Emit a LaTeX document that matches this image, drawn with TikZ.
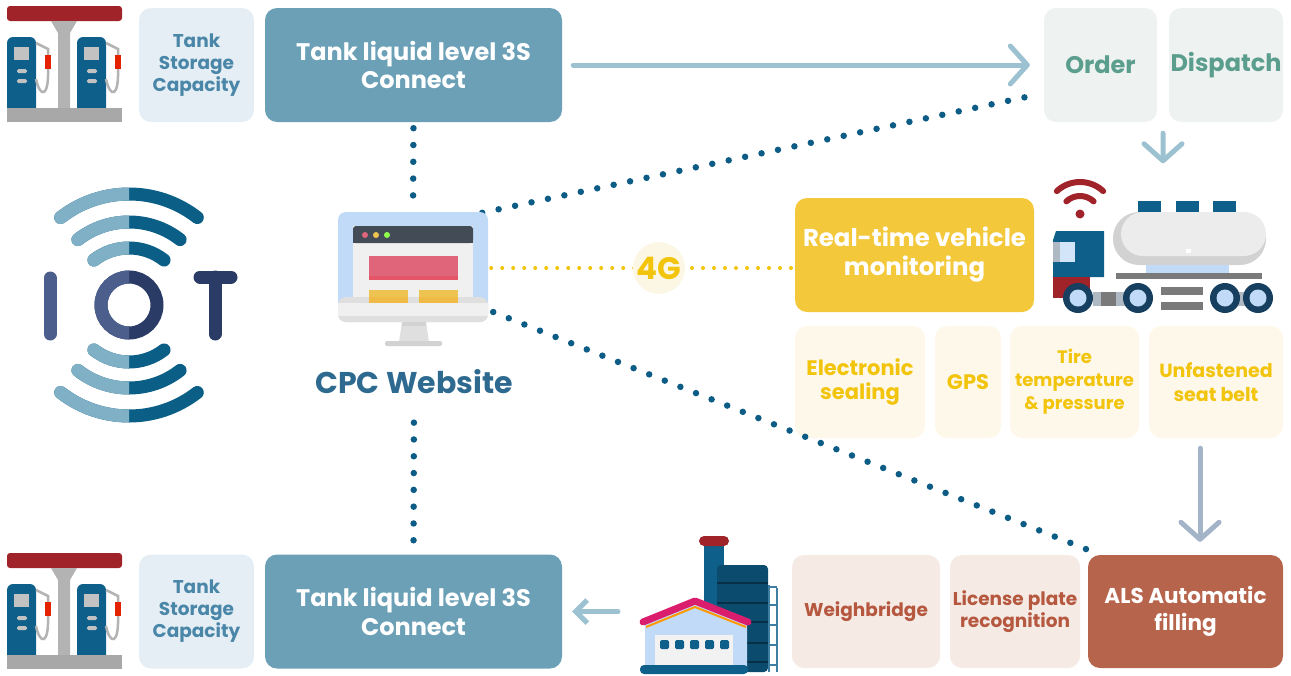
\documentclass[tikz,border=0pt]{standalone}
\usepackage{fontspec}
\setmainfont{Poppins}
\usetikzlibrary{arrows.meta,calc}
\definecolor{capfill}{HTML}{E5EEF4}
\definecolor{captext}{HTML}{4A86A8}
\definecolor{connfill}{HTML}{6BA0B7}
\definecolor{ordfill}{HTML}{EEF2F0}
\definecolor{ordtext}{HTML}{5B9E8E}
\definecolor{arrowblue}{HTML}{9CC1D1}
\definecolor{arrowgrey}{HTML}{A3B4C8}
\definecolor{rtfill}{HTML}{F3C83A}
\definecolor{senfill}{HTML}{FDF8EA}
\definecolor{gold}{HTML}{F2C40C}
\definecolor{netfill}{HTML}{FCF7E4}
\definecolor{brfill}{HTML}{F5EAE4}
\definecolor{brtext}{HTML}{B5583F}
\definecolor{alsfill}{HTML}{B7644C}
\definecolor{dotblue}{HTML}{0C5C86}
\definecolor{cpctext}{HTML}{2E6A8F}
\definecolor{arcl}{HTML}{80B0C5}
\definecolor{arcd}{HTML}{0B5E86}
\definecolor{iotl}{HTML}{4C5E8B}
\definecolor{iotd}{HTML}{2A3B66}
\definecolor{pumpblue}{HTML}{0E5F8A}
\definecolor{roofred}{HTML}{A0232A}
\definecolor{polegray}{HTML}{B3B3B3}
\definecolor{basegray}{HTML}{A8A8A8}
\definecolor{darkgray}{HTML}{7A7A7A}
\definecolor{softgray}{HTML}{AEB9C3}
\definecolor{paleblue}{HTML}{C0DAF7}
\definecolor{wheeldark}{HTML}{173F5F}
\definecolor{screenbar}{HTML}{434B57}
\definecolor{screenred}{HTML}{E0647A}
\definecolor{screenyel}{HTML}{EDC452}
\tikzset{
  >={Straight Barb[round,length=17pt,width=38pt]},
}
\tikzstyle{box}=[rounded corners=12pt,align=center,inner sep=0pt]
\tikzstyle{capbox}=[box,fill=capfill,text=captext,minimum width=115pt,minimum height=114pt,
  font=\bfseries\fontsize{18.5}{22}\selectfont]
\tikzstyle{connbox}=[box,fill=connfill,text=white,minimum width=297pt,minimum height=114pt,
  font=\bfseries\fontsize{24}{28.5}\selectfont]
\tikzstyle{ordbox}=[box,fill=ordfill,text=ordtext,minimum height=114pt,
  font=\bfseries\fontsize{24}{28}\selectfont]
\tikzstyle{rtbox}=[box,fill=rtfill,text=white,minimum width=239pt,minimum height=114pt,
  font=\bfseries\fontsize{24.4}{29}\selectfont]
\tikzstyle{senbox}=[box,fill=senfill,text=gold,minimum height=112pt,
  font=\bfseries\fontsize{21}{24}\selectfont]
\tikzstyle{brbox}=[box,fill=brfill,text=brtext,minimum height=113pt,
  font=\bfseries\fontsize{18.5}{22}\selectfont]
\tikzstyle{flow}=[->,draw=arrowblue,line width=5pt,line cap=round]
\tikzstyle{dots}=[draw=dotblue,line width=6.5pt,line cap=round,dash pattern=on 0pt off 16.8pt]
\tikzstyle{ydots}=[draw=gold,line width=4pt,line cap=round,dash pattern=on 0pt off 11pt]
\tikzstyle{iotarc}=[line width=13pt,line cap=round]

\newcommand{\pumpstation}[1]{%
  \begin{scope}[shift={#1}]
    \fill[roofred,rounded corners=3pt] (0,1) rectangle (115,16);
    \fill[polegray] (44,16) -- (70,16) -- (63,28) -- (63,104) -- (51,104) -- (51,28) -- cycle;
    \foreach \d in {0,70}{
      \fill[pumpblue,rounded corners=6pt] (\d,32) rectangle (\d+29,110);
      \fill[polegray!80] (\d+7,42) rectangle (\d+22,55);
      \fill[polegray!80,rounded corners=1.5pt] (\d+10,64) rectangle (\d+20,68);
      \fill[polegray!80,rounded corners=1.5pt] (\d+10,74) rectangle (\d+20,78);
      \draw[polegray,line width=2.5pt] (\d+29,38) -- (\d+41,44) -- (\d+41,50);
      \draw[polegray,line width=2.5pt] (\d+29,74) .. controls (\d+33,93) and (\d+42,93) .. (\d+41,64);
      \fill[red!70!orange!90!black] (\d+38,50) rectangle (\d+44,64);
    }
    \fill[basegray] (0,103) rectangle (115,117);
  \end{scope}}

\begin{document}
\begin{tikzpicture}[x=1pt,y=-1pt]
  \useasboundingbox (0,0) rectangle (1291,675);

  % boxes
  \node[capbox] (cap1) at (196.5,65) {Tank\\Storage\\Capacity};
  \node[connbox] (conn1) at (413.5,65) {Tank liquid level 3S\\Connect};
  \node[ordbox,minimum width=113pt] (order) at (1100.5,65) {Order};
  \node[ordbox,minimum width=114pt] (dispatch) at (1226,65) {Dispatch};
  \node[rtbox] (rt) at (914.5,255) {Real-time vehicle\\monitoring};
  \node[senbox,minimum width=130pt] (seal) at (860,382) {Electronic\\sealing};
  \node[senbox,minimum width=66pt] (gps) at (968,382) {GPS};
  \node[senbox,minimum width=129pt,font=\bfseries\fontsize{18}{23}\selectfont] (tire) at (1074.5,382) {Tire\\temperature\\\& pressure};
  \node[senbox,minimum width=134pt,font=\bfseries\fontsize{19}{23.5}\selectfont] (belt) at (1216,382) {Unfastened\\seat belt};
  \node[capbox] (cap2) at (196.5,611.5) {Tank\\Storage\\Capacity};
  \node[connbox] (conn2) at (413.5,611.5) {Tank liquid level 3S\\Connect};
  \node[brbox,minimum width=148pt] (weigh) at (866,611.5) {Weighbridge};
  \node[brbox,minimum width=130pt] (plate) at (1015,611.5) {License plate\\recognition};
  \node[brbox,minimum width=195pt,fill=alsfill,text=white,
    font=\bfseries\fontsize{21.5}{27}\selectfont] (als) at (1185.5,611.5) {ALS Automatic\\filling};

  \node[minimum width=150pt,minimum height=134pt,inner sep=0pt] (web) at (413,279) {};
  \node[text=cpctext,font=\bfseries\fontsize{30}{34}\selectfont] (cpc) at (414,382) {CPC Website};
  \node[minimum width=225pt,minimum height=143pt,inner sep=0pt] (truck) at (1162,243) {};
  \coordinate (tail) at (618,611.5);
  \coordinate (net) at (659,268);

  % links
  \draw[dots,shorten <=6pt,shorten >=12pt] (conn1.south) -- (web.north);
  \draw[dots,shorten <=25pt,shorten >=7pt] (cpc.south) -- (conn2.north);
  \draw[dots] ($(web.north east)+(-6,1)$) -- ($(order.west)+(-13,31)$);
  \draw[dots] ($(web.east)+(5,33)$) -- ($(als.north west)+(10,-1)$);
  \draw[ydots,shorten <=3pt] (web.east |- net) -- (net);
  \draw[ydots] (net) -- (net -| rt.west);
  \node[circle,fill=netfill,minimum size=52pt,inner sep=0pt,text=gold,
    font=\bfseries\fontsize{31}{31}\selectfont] (g4) at (net) {4G};

  \draw[flow,shorten <=11pt,shorten >=14pt] (conn1) -- (order);
  \draw[flow,Straight Barb-,shorten <=10pt] (conn2.east) -- (tail);
  \draw[flow,shorten <=11pt,shorten >=8pt]
    ($(order.south east)!0.5!(dispatch.south west)$) -- (truck.north -| 1163,0);
  \draw[flow,draw=arrowgrey,shorten <=10pt,shorten >=13pt]
    ([xshift=-16pt]belt.south) -- ([xshift=14.5pt]als.north);

  % IOT logo
  \foreach \r in {57,83,111}{
    \draw[iotarc,arcd] (129,305) ++(232:\r) arc[start angle=232,end angle=308,radius=\r];
    \draw[iotarc,arcd] (129,305) ++(52:\r) arc[start angle=52,end angle=128,radius=\r];
  }
  \draw[iotd,line width=13pt] (129,305) circle (28);
  \begin{scope}
    \clip (0,150) rectangle (129,450);
    \foreach \r in {57,83,111}{
      \draw[iotarc,arcl] (129,305) ++(232:\r) arc[start angle=232,end angle=308,radius=\r];
      \draw[iotarc,arcl] (129,305) ++(52:\r) arc[start angle=52,end angle=128,radius=\r];
    }
    \draw[iotl,line width=13pt] (129,305) circle (28);
  \end{scope}
  \draw[iotl,iotarc] (50,278) -- (50,334);
  \draw[iotd,iotarc] (200,277) -- (231,277) (215,277) -- (215,334);

  % gas stations
  \pumpstation{(7,5)}
  \pumpstation{(7,552)}

  % monitor
  \fill[paleblue,rounded corners=8pt] (338,212) rectangle (488,322);
  \fill[gray!25,rounded corners=8pt] (338,297) rectangle (488,322);
  \fill[gray!12] (338,303) rectangle (488,316);
  \fill[gray!12] (353,226) rectangle (473,297);
  \fill[screenbar,rounded corners=3pt] (353,226) rectangle (473,243);
  \fill[screenbar] (353,236) rectangle (473,243);
  \fill[screenred] (365,235) circle (3);
  \fill[screenyel] (376,235) circle (3);
  \fill[green!50!lime!70] (387,235) circle (3);
  \fill[screenred] (369,256) rectangle (458,280);
  \fill[screenred!85!red] (369,276) rectangle (458,280);
  \foreach \d in {369,419}{
    \fill[screenyel] (\d,290) rectangle (\d+39,297);
    \fill[screenyel!85!orange] (\d,297) rectangle (\d+39,303);
  }
  \fill[gray!25] (402,322) -- (426,322) -- (429,342) -- (399,342) -- cycle;
  \fill[gray!35] (402,322) rectangle (426,326);
  \fill[gray!35,rounded corners=2pt] (385,341) rectangle (442,346);

  % truck
  \fill[roofred] (1080,214) circle (4.5);
  \draw[roofred,line width=6pt,line cap=round] (1080,216) ++(227:20) arc[start angle=227,end angle=313,radius=20];
  \draw[roofred,line width=6pt,line cap=round] (1080,216) ++(227:34) arc[start angle=227,end angle=313,radius=34];
  \foreach \d in {1138,1176,1213}
    \fill[pumpblue] (\d,201) rectangle (\d+23,212);
  \fill[gray!35,rounded corners=26pt] (1113,212) rectangle (1266,265);
  \fill[gray!15,rounded corners=22pt] (1121,212) rectangle (1266,256);
  \fill[white] (1186,249) rectangle (1191,253);
  \fill[paleblue] (1146,265) rectangle (1229,273);
  \fill[darkgray] (1116,273) rectangle (1262,279);
  \fill[pumpblue] (1056,231) -- (1104,231) -- (1104,277) -- (1053,277) -- (1053,240) -- cycle;
  \fill[softgray] (1053,242) rectangle (1060,262);
  \fill[paleblue!70!white] (1060,242) rectangle (1075,262);
  \fill[roofred] (1053,277) rectangle (1090,298);
  \fill[softgray] (1093,292) rectangle (1125,306);
  \fill[darkgray] (1101,292) rectangle (1116,306);
  \fill[softgray] (1235,292) rectangle (1250,306);
  \fill[darkgray] (1161,287) rectangle (1203,295);
  \fill[darkgray] (1161,302) rectangle (1203,310);
  \foreach \d in {1078,1138,1225,1258}{
    \fill[wheeldark] (\d,298) circle (15);
    \fill[paleblue] (\d,298) circle (8.5);
  }

  % factory
  \fill[pumpblue] (704,543) rectangle (724,612);
  \fill[roofred,rounded corners=5pt] (699,536) rectangle (729,546);
  \fill[pumpblue!80!black,rounded corners=4pt] (717,565) rectangle (768,672);
  \foreach \h in {583,603,622,643,662}
    \draw[pumpblue!50!black,line width=2pt] (717,\h) -- (768,\h);
  \draw[pumpblue!80!white,line width=2pt] (769,585) -- (769,672) (777,588) -- (777,672);
  \draw[pumpblue!80!white,line width=2pt] (769,587) -- (777,587);
  \foreach \h in {605,625,645,665}
    \draw[pumpblue!80!white,line width=2pt] (769,\h) -- (777,\h);
  \fill[paleblue] (645,622) -- (695,602) -- (747,622) -- (747,667) -- (645,667) -- cycle;
  \draw[orange!80!yellow,line width=2pt] (646,627) -- (695,607) -- (746,627);
  \draw[magenta!70!red!90!black,line width=7pt,line cap=round,line join=round] (643,622) -- (695,601) -- (748,622);
  \fill[gray!10] (655,635) rectangle (733,667);
  \foreach \d in {660,675,690,705,720}
    \fill[pumpblue,rounded corners=1.5pt] (\d,640) rectangle (\d+9,649);
  \fill[pumpblue,rounded corners=4pt] (640,665) rectangle (748,674);
\end{tikzpicture}
\end{document}
